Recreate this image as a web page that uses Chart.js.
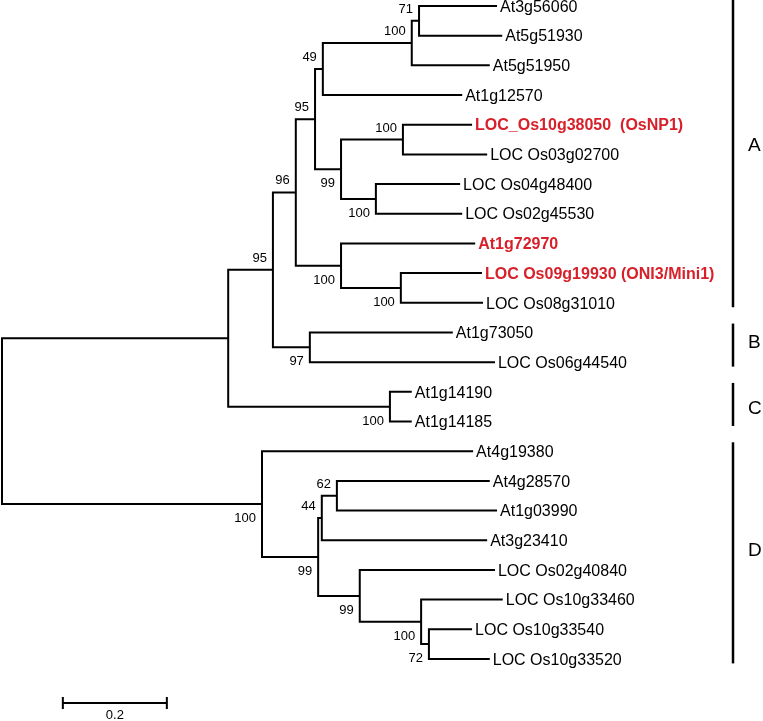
<!DOCTYPE html>
<html>
<head>
<meta charset="utf-8">
<script src="https://cdn.jsdelivr.net/npm/chart.js@4.4.1/dist/chart.umd.min.js"></script>
<style>
  html, body { margin: 0; padding: 0; background: #fff; }
  #wrap { position: relative; width: 763px; height: 721px; }
</style>
</head>
<body>
<div id="wrap"><canvas id="c"></canvas></div>
<script>
// ---- Tree data (preorder). Internal nodes have empty names. ----
const nodeNames = [
  '', '', '', '', '', '', '', '',
  'At3g56060', 'At5g51930', 'At5g51950', 'At1g12570',
  '', '', 'LOC_Os10g38050  (OsNP1)', 'LOC Os03g02700',
  '', 'LOC Os04g48400', 'LOC Os02g45530',
  '', 'At1g72970', '', 'LOC Os09g19930 (ONI3/Mini1)', 'LOC Os08g31010',
  '', 'At1g73050', 'LOC Os06g44540',
  '', 'At1g14190', 'At1g14185',
  '', 'At4g19380', '', '', '', 'At4g28570', 'At1g03990', 'At3g23410',
  '', 'LOC Os02g40840', '', 'LOC Os10g33460', '', 'LOC Os10g33540', 'LOC Os10g33520'
];
const nodeParents = [
  -1, 0, 1, 2, 3, 4, 5, 6,
  7, 7, 6, 5,
  4, 12, 13, 13,
  12, 16, 16,
  3, 19, 19, 21, 21,
  2, 24, 24,
  1, 27, 27,
  0, 30, 30, 32, 33, 34, 34, 33,
  32, 38, 38, 40, 40, 42, 42
];
const branchLengths = [
  0, 0.435, 0.086, 0.044, 0.037, 0.015, 0.171, 0.014,
  0.150, 0.160, 0.150, 0.268,
  0.050, 0.119, 0.133, 0.162,
  0.067, 0.162, 0.166,
  0.087, 0.258, 0.115, 0.156, 0.158,
  0.071, 0.275, 0.356,
  0.311, 0.042, 0.042,
  0.500, 0.406, 0.108, 0.007, 0.029, 0.294, 0.308, 0.318,
  0.080, 0.260, 0.118, 0.157, 0.015, 0.083, 0.117
];
const bootstrap = [
  '', '', '95', '96', '95', '49', '100', '71',
  '', '', '', '',
  '99', '100', '', '',
  '100', '', '',
  '100', '', '100', '', '',
  '97', '', '',
  '100', '', '',
  '100', '', '99', '44', '62', '', '', '',
  '99', '', '100', '', '72', '', ''
];
const highlightedLeaves = ['LOC_Os10g38050  (OsNP1)', 'At1g72970', 'LOC Os09g19930 (ONI3/Mini1)'];
const cladeNames = ['A', 'B', 'C', 'D'];
const cladeFirstLeaf = [0, 11, 13, 15];
const cladeLastLeaf = [10, 12, 14, 22];
const scaleBarLength = 0.2;
const scaleBarLabel = '0.2';

// ---- Layout from tree data ----
const N = nodeNames.length;
const children = Array.from({length: N}, () => []);
for (let i = 1; i < N; i++) children[nodeParents[i]].push(i);
const depth = new Array(N).fill(0);
for (let i = 1; i < N; i++) depth[i] = depth[nodeParents[i]] + branchLengths[i];
const row = new Array(N).fill(0);
let leafCounter = 0;
for (let i = 0; i < N; i++) if (children[i].length === 0) row[i] = leafCounter++;
for (let i = N - 1; i >= 0; i--) {
  const ch = children[i];
  if (ch.length) row[i] = (row[ch[0]] + row[ch[ch.length - 1]]) / 2;
}

// bracket polylines for each internal node
const datasets = [];
for (let i = 0; i < N; i++) {
  const ch = children[i];
  if (!ch.length) continue;
  const a = ch[0], b = ch[ch.length - 1];
  datasets.push({
    data: [
      {x: depth[a], y: row[a]},
      {x: depth[i], y: row[a]},
      {x: depth[i], y: row[b]},
      {x: depth[b], y: row[b]}
    ],
    showLine: true, borderColor: '#000', borderWidth: 2,
    pointRadius: 0, tension: 0, borderJoinStyle: 'miter', borderCapStyle: 'butt'
  });
}

const FONT = "'Liberation Sans', Arial, sans-serif";
const PX_PER_UNIT = 520;
const ROW_PX = 29.68;

const labelPlugin = {
  id: 'treeLabels',
  afterDatasetsDraw(chart) {
    const ctx = chart.ctx, xs = chart.scales.x, ys = chart.scales.y;
    ctx.save();
    // leaf labels
    for (let i = 0; i < N; i++) {
      if (children[i].length) continue;
      const hl = highlightedLeaves.includes(nodeNames[i]);
      ctx.font = (hl ? 'bold ' : '') + '16px ' + FONT;
      ctx.fillStyle = hl ? '#d8202a' : '#000';
      ctx.textAlign = 'left';
      ctx.textBaseline = 'alphabetic';
      ctx.fillText(nodeNames[i], xs.getPixelForValue(depth[i]) + 3, ys.getPixelForValue(row[i]) + 5.7);
    }
    // bootstrap values
    ctx.font = '13px ' + FONT;
    ctx.fillStyle = '#000';
    ctx.textAlign = 'right';
    for (let i = 1; i < N; i++) {
      if (!bootstrap[i]) continue;
      const p = nodeParents[i];
      const isUpper = children[p][0] === i;
      const x = xs.getPixelForValue(depth[i]) - 6;
      const y = ys.getPixelForValue(row[i]);
      ctx.fillText(bootstrap[i], x, isUpper ? y - 8 : y + 18);
    }
    // scale bar
    const sx0 = xs.getPixelForValue(0.117), sx1 = xs.getPixelForValue(0.117 + scaleBarLength);
    const sy = ys.getPixelForValue(23.48);
    ctx.strokeStyle = '#000';
    ctx.lineWidth = 2;
    ctx.beginPath();
    ctx.moveTo(sx0, sy); ctx.lineTo(sx1, sy);
    ctx.moveTo(sx0, sy - 6); ctx.lineTo(sx0, sy + 6);
    ctx.moveTo(sx1, sy - 6); ctx.lineTo(sx1, sy + 6);
    ctx.stroke();
    ctx.textAlign = 'center';
    ctx.fillText(scaleBarLabel, (sx0 + sx1) / 2, sy + 16);
    // clade bars
    const bx = 733;
    const labelRows = [4.65, 11.3, 13.5, 18.3];
    ctx.lineWidth = 2.5;
    for (let k = 0; k < cladeNames.length; k++) {
      const y0 = ys.getPixelForValue(cladeFirstLeaf[k] - 0.3);
      const y1 = ys.getPixelForValue(cladeLastLeaf[k] + 0.15);
      ctx.beginPath(); ctx.moveTo(bx, y0); ctx.lineTo(bx, y1); ctx.stroke();
      ctx.font = '19px ' + FONT;
      ctx.textAlign = 'left';
      ctx.fillText(cladeNames[k], 748, ys.getPixelForValue(labelRows[k]) + 7);
    }
    ctx.restore();
  }
};

new Chart(document.getElementById('c'), {
  type: 'scatter',
  data: { datasets },
  options: {
    responsive: true, maintainAspectRatio: false, animation: false,
    layout: { padding: 0 },
    plugins: { legend: { display: false }, tooltip: { enabled: false } },
    scales: {
      x: { type: 'linear', display: false, min: -2 / PX_PER_UNIT, max: 761 / PX_PER_UNIT },
      y: { type: 'linear', display: false, reverse: true, min: -6 / ROW_PX, max: 715 / ROW_PX }
    }
  },
  plugins: [labelPlugin]
});
</script>
</body>
</html>
